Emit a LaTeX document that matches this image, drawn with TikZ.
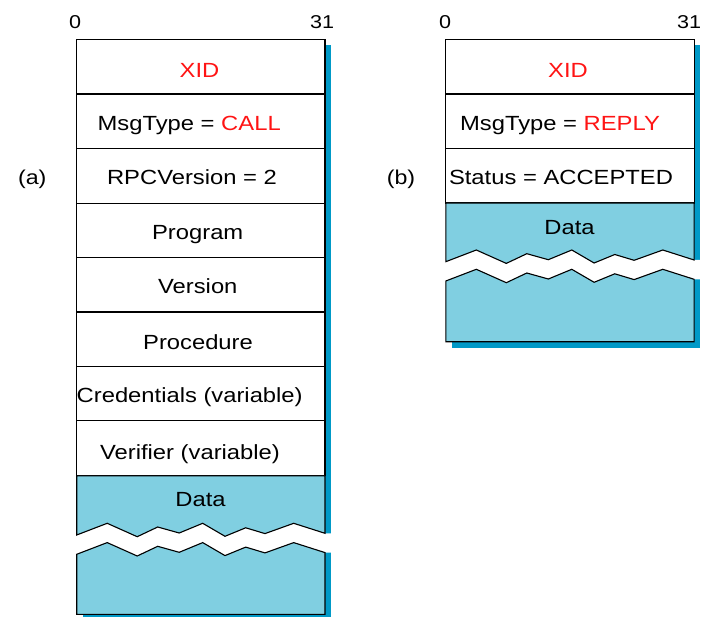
\documentclass[tikz,border=0pt]{standalone}
\usepackage{fontspec}
\setmainfont{Liberation Sans}[FakeStretch=1.16]
\definecolor{datafill}{RGB}{128,207,225}
\definecolor{dropcol}{RGB}{0,153,199}
\definecolor{hot}{RGB}{255,20,20}

% broken edge of the data field, left to right and right to left
\newcommand\zigf[2]{(#1,#2+11.7) -- (#1+30.5,#2) -- (#1+60.5,#2+13.4) -- (#1+81,#2+3.7) -- (#1+102.5,#2+9.7) -- (#1+126,#2) -- (#1+148.3,#2+13) -- (#1+169,#2+4.5) -- (#1+188.3,#2+10.3) -- (#1+217,#2) -- (#1+248.3,#2+10)}
\newcommand\zigr[2]{(#1+248.3,#2+10) -- (#1+217,#2) -- (#1+188.3,#2+10.3) -- (#1+169,#2+4.5) -- (#1+148.3,#2+13) -- (#1+126,#2) -- (#1+102.5,#2+9.7) -- (#1+81,#2+3.7) -- (#1+60.5,#2+13.4) -- (#1+30.5,#2) -- (#1,#2+11.7)}

% one message: #1 left edge, #2 bottom of header rows, #3 zigzag base, #4 bottom
\newcommand\msgframe[4]{%
  \fill[dropcol] (#1+6,45.5) rectangle (#1+254.3,#4+6);
  \fill[white] \zigf{#1}{#3} -- (#1+257.3,#3+10) -- (#1+257.3,#3+29.3) -- \zigr{#1}{#3+19.3} -- cycle;
  \draw[fill=white] (#1,39.5) rectangle (#1+248.3,#2);
  \draw[fill=datafill] (#1,#2) -- (#1+248.3,#2) -- (#1+248.3,#3+10) -- \zigr{#1}{#3} -- cycle;
  \draw[fill=datafill] \zigf{#1}{#3+19.3} -- (#1+248.3,#4) -- (#1,#4) -- cycle;
}

\begin{document}
\begin{tikzpicture}[x=1pt,y=-1pt,line width=1.1pt,
  field/.style={anchor=base,inner sep=0pt,font=\fontsize{20.5}{24}\selectfont},
  bitno/.style={anchor=base,inner sep=0pt,font=\fontsize{18.6}{22}\selectfont},
  tag/.style={anchor=base,inner sep=0pt,font=\fontsize{20}{24}\selectfont}]
\useasboundingbox (0,0) rectangle (711,617);

% (a) call message
\msgframe{76.7}{475.8}{523.3}{614.3}
\foreach \y in {94,148.7,203.3,257.5,312,366.7,420.5}
  \draw (76.7,\y) -- (325,\y);

% (b) reply message
\msgframe{445.8}{203}{250}{341.7}
\foreach \y in {94,148.7}
  \draw (445.8,\y) -- (694.1,\y);

% bit numbers and captions
\node[bitno] (a0)  at (75,28.3)  {0};
\node[bitno] (a31) at (322,28.3) {31};
\node[bitno] (b0)  at (445,28.3) {0};
\node[bitno] (b31) at (689,28.3) {31};
\node[tag] (capa) at (32.3,184.3) {(a)};
\node[tag] (capb) at (401,184.3) {(b)};

% fields of the call
\node[field,text=hot] (axid) at (199.5,77.3) {XID};
\node[field] (amsg) at (189.2,130.3) {MsgType = \textcolor{hot}{CALL}};
\node[field] (arpc) at (192,184.3) {RPCVersion = 2};
\node[field] (aprog) at (197.7,239.3) {Program};
\node[field] (avers) at (197.8,293.3) {Version};
\node[field] (aproc) at (198,349.3) {Procedure};
\node[field] (acred) at (189.7,402.7) {Credentials (variable)};
\node[field] (averi) at (190,459.3) {Verifier (variable)};
\node[field] (adata) at (200.5,506.7) {Data};

% fields of the reply
\node[field,text=hot] (bxid) at (568,77.3) {XID};
\node[field] (bmsg) at (560,130.3) {MsgType = \textcolor{hot}{REPLY}};
\node[field] (bstat) at (561,184.3) {Status = ACCEPTED};
\node[field] (bdata) at (569.5,235) {Data};
\end{tikzpicture}
\end{document}
